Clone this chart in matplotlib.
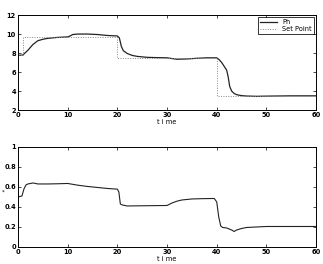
import matplotlib
matplotlib.use("Agg")
import matplotlib.pyplot as plt
import numpy as np

# Top panel: pH response and set point
t_ph = [0, 1, 2, 3, 4, 5, 6, 8, 10, 10.5, 11, 12, 14, 16, 18, 20, 20.4, 20.8, 21.2, 22, 23, 24, 26, 28, 30, 31, 32, 34, 36, 38, 40, 40.5, 41, 41.5, 42, 42.3, 42.6, 43, 43.5, 44, 45, 46, 48, 50, 55, 60]
ph = [7.75, 7.8, 8.3, 8.9, 9.3, 9.45, 9.55, 9.65, 9.7, 9.8, 9.95, 10.0, 10.0, 9.95, 9.85, 9.8, 9.6, 8.7, 8.25, 7.95, 7.75, 7.65, 7.55, 7.52, 7.5, 7.42, 7.35, 7.38, 7.45, 7.5, 7.5, 7.3, 7.0, 6.6, 6.2, 5.5, 4.5, 4.0, 3.75, 3.62, 3.52, 3.48, 3.45, 3.47, 3.5, 3.5]

t_sp = [0, 1, 1, 20, 20, 40, 40, 60]
sp = [7.8, 7.8, 9.7, 9.7, 7.5, 7.5, 3.5, 3.5]

# Bottom panel: control signal
t_u = [0, 0.8, 1.2, 1.6, 2, 3, 4, 6, 8, 10, 12, 14, 16, 18, 20, 20.3, 20.6, 21, 22, 25, 30, 31, 32, 33, 35, 37, 39.5, 40, 40.4, 40.8, 41.2, 42, 43, 43.5, 44, 45, 46, 48, 50, 55, 60]
u = [0.5, 0.51, 0.58, 0.62, 0.63, 0.64, 0.63, 0.63, 0.632, 0.635, 0.618, 0.605, 0.595, 0.585, 0.578, 0.55, 0.43, 0.42, 0.41, 0.412, 0.415, 0.44, 0.458, 0.47, 0.48, 0.483, 0.485, 0.45, 0.3, 0.21, 0.195, 0.19, 0.17, 0.155, 0.17, 0.185, 0.195, 0.2, 0.205, 0.205, 0.205]

x_ticks = [0, 10, 20, 30, 40, 50, 60]
y_ticks_top = [2, 4, 6, 8, 10, 12]
y_ticks_bot = [0, 0.2, 0.4, 0.6, 0.8, 1]

fig = plt.figure(figsize=(3.23, 2.64), dpi=100)
ax1 = fig.add_axes([0.0557, 0.583, 0.923, 0.36])
ax2 = fig.add_axes([0.0557, 0.0644, 0.923, 0.379])

fs = 4.8
for ax in (ax1, ax2):
    ax.tick_params(direction='in', length=2, width=0.5, labelsize=fs, top=True, right=True, pad=1.5)
    for s in ax.spines.values():
        s.set_linewidth(0.7)
    ax.set_xlim(0, 60)
    ax.set_xticks(x_ticks)
    ax.set_xlabel('t i me', fontsize=fs, labelpad=0.5)
    for lab in ax.get_xticklabels() + ax.get_yticklabels():
        lab.set_fontweight('bold')

ax1.plot(t_ph, ph, color='#222222', lw=0.9, label='Ph')
ax1.plot(t_sp, sp, color='#888888', lw=0.7, ls=(0, (1, 1.5)), label='Set Point')
ax1.set_ylim(2, 12)
ax1.set_yticks(y_ticks_top)
ax1.set_yticklabels([str(v) for v in y_ticks_top], fontweight='bold')
ax1.set_xticklabels([str(v) for v in x_ticks], fontweight='bold')
leg = ax1.legend(loc='upper right', fontsize=fs, frameon=True, fancybox=False,
                 edgecolor='black', borderpad=0.3, handlelength=2.5, labelspacing=0.2,
                 borderaxespad=0.3)
leg.get_frame().set_linewidth(0.7)

ax2.plot(t_u, u, color='#222222', lw=0.8)
ax2.set_ylim(0, 1)
ax2.set_yticks(y_ticks_bot)
ax2.set_yticklabels(['0', '0.2', '0.4', '0.6', '0.8', '1'], fontweight='bold')
ax2.set_xticklabels([str(v) for v in x_ticks], fontweight='bold')
fig.text(0.006, 0.265, '*', fontsize=4)

fig.savefig('out.png', dpi=100)
